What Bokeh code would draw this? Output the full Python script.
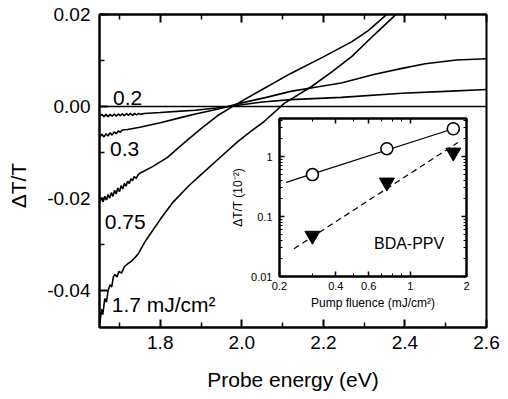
from bokeh.plotting import figure
from bokeh.models import LinearAxis, LogAxis, FixedTicker, Label, Range1d, Span
from bokeh.layouts import column
from bokeh.embed import file_html
from bokeh.resources import INLINE

# ---------------- data: main panel (probe energy in eV, dT/T) ----------------
e_02 = [1.652, 1.657, 1.662, 1.667, 1.672, 1.677, 1.682, 1.687, 1.692, 1.697, 1.702, 1.707,
        1.712, 1.717, 1.722, 1.727, 1.732, 1.737, 1.742, 1.747, 1.752, 1.76, 1.80, 1.85, 1.886,
        1.95, 2.00, 2.05, 2.12, 2.244, 2.393, 2.50, 2.60]
dt_02 = [-0.0021, -0.0017, -0.0022, -0.0017, -0.0022, -0.0017, -0.0021, -0.0016, -0.0021, -0.0016,
         -0.0020, -0.0016, -0.0020, -0.0015, -0.0019, -0.0015, -0.0019, -0.0015, -0.0018, -0.0015,
         -0.0017, -0.0015, -0.0013, -0.0010, -0.0008, -0.0002, 0.0004, 0.0010, 0.0015, 0.0020,
         0.0029, 0.0033, 0.0037]

e_03 = [1.652, 1.657, 1.662, 1.667, 1.672, 1.677, 1.682, 1.687, 1.692, 1.697, 1.702, 1.707,
        1.72, 1.75, 1.80, 1.85, 1.886, 1.94, 2.00, 2.06, 2.12, 2.18, 2.244, 2.326, 2.393, 2.45,
        2.526, 2.60]
dt_03 = [-0.0066, -0.0060, -0.0066, -0.0059, -0.0064, -0.0057, -0.0062, -0.0055, -0.0059, -0.0053,
         -0.0056, -0.0051, -0.0050, -0.0045, -0.0035, -0.0024, -0.0016, -0.0006, 0.0008, 0.0020,
         0.0033, 0.0042, 0.0051, 0.0070, 0.0083, 0.0093, 0.0101, 0.0104]

e_075 = [1.652, 1.656, 1.660, 1.664, 1.668, 1.672, 1.676, 1.680, 1.684, 1.688, 1.692, 1.696,
         1.700, 1.704, 1.708, 1.712, 1.716, 1.720, 1.724, 1.728, 1.732, 1.736, 1.741, 1.746,
         1.75, 1.78, 1.817, 1.857, 1.90, 1.94, 1.99, 2.05, 2.12, 2.20, 2.27, 2.31, 2.35, 2.37]
dt_075 = [-0.0208, -0.0198, -0.0207, -0.0195, -0.0203, -0.0191, -0.0199, -0.0187, -0.0195, -0.0182,
          -0.0190, -0.0177, -0.0185, -0.0172, -0.0179, -0.0167, -0.0173, -0.0162, -0.0167, -0.0157,
          -0.0161, -0.0152, -0.0156, -0.0148, -0.0145, -0.0131, -0.0111, -0.0080, -0.0048, -0.0020,
          0.0007, 0.0037, 0.0072, 0.0108, 0.0141, 0.0165, 0.0196, 0.0212]

e_17 = [1.652, 1.656, 1.659, 1.664, 1.668, 1.672, 1.677, 1.681, 1.685, 1.689, 1.694, 1.699,
        1.705, 1.712, 1.721, 1.728, 1.736, 1.746, 1.763, 1.80, 1.832, 1.87, 1.90, 1.95, 1.99,
        2.022, 2.054, 2.104, 2.17, 2.22, 2.27, 2.326, 2.373, 2.39]
dt_17 = [-0.0470, -0.0440, -0.0452, -0.0417, -0.0425, -0.0400, -0.0387, -0.0392, -0.0370, -0.0365,
         -0.0370, -0.0358, -0.0362, -0.0348, -0.0341, -0.0337, -0.0330, -0.0320, -0.0293, -0.0245,
         -0.0207, -0.0172, -0.0148, -0.0108, -0.0076, -0.0054, -0.0033, 0.0007, 0.0043, 0.0075,
         0.0109, 0.0157, 0.0196, 0.0212]

x_ticks = [1.8, 2.0, 2.2, 2.4, 2.6]
x_minor = [1.7, 1.9, 2.1, 2.3, 2.5]
x_labels = ["1.8", "2.0", "2.2", "2.4", "2.6"]
y_ticks = [-0.04, -0.02, 0.0, 0.02]
y_minor = [-0.03, -0.01, 0.01]
y_labels = ["-0.04", "-0.02", "0.00", "0.02"]

# ---------------- data: inset (pump fluence, dT/T in 10^-2) ----------------
fluence = [0.3, 0.75, 1.7]
dt_circle = [0.5, 1.35, 2.9]
dt_triangle = [0.048, 0.37, 1.17]
fit_lin_x = [0.217, 1.7]
fit_lin_y = [0.37, 2.9]
fit_quad_x = [0.239, 1.8]
fit_quad_y = [0.029, 1.71]

ix_ticks = [0.2, 0.4, 0.6, 1, 2]
ix_minor = [0.3, 0.5, 0.7, 0.8, 0.9]
ix_labels = ["0.2", "0.4", "0.6", "1", "2"]
iy_ticks = [0.01, 0.1, 1]
iy_minor = [0.02, 0.03, 0.04, 0.05, 0.06, 0.07, 0.08, 0.09,
            0.2, 0.3, 0.4, 0.5, 0.6, 0.7, 0.8, 0.9, 2, 3, 4]
iy_labels = ["0.01", "0.1", "1"]

FONT = "Liberation Sans"

# ---------------- main figure ----------------
W, H = 500, 395
LEFT = 99
p = figure(width=W, height=H, output_backend="svg", toolbar_location=None,
           x_range=Range1d(1.651, 2.6), y_range=Range1d(-0.048, 0.02),
           min_border_left=LEFT, min_border_right=14, min_border_top=14, min_border_bottom=68,
           background_fill_color="white", border_fill_color="white")
p.xgrid.visible = False
p.ygrid.visible = False
p.outline_line_color = "black"
p.outline_line_width = 2


def style_axis(ax, ticks, minor, labels, fs, standoff, show_labels=True,
               maj_in=8, min_in=5, maj_w=2, min_w=1.5):
    ax.ticker = FixedTicker(ticks=ticks, minor_ticks=minor)
    ax.axis_line_width = 2
    ax.axis_line_color = "black"
    ax.major_tick_in = maj_in
    ax.major_tick_out = 0
    ax.minor_tick_in = min_in
    ax.minor_tick_out = 0
    ax.major_tick_line_width = maj_w
    ax.minor_tick_line_width = min_w
    ax.major_tick_line_color = "black"
    ax.minor_tick_line_color = "black"
    ax.major_label_text_font = FONT
    if show_labels:
        ax.major_label_overrides = {t: l for t, l in zip(ticks, labels)}
        ax.major_label_text_font_size = fs
        ax.major_label_text_color = "black"
        ax.major_label_standoff = standoff
    else:
        ax.major_label_text_font_size = "1px"
        ax.major_label_text_color = None
        ax.major_label_standoff = 0


style_axis(p.xaxis[0], x_ticks, x_minor, x_labels, "19px", 8)
style_axis(p.yaxis[0], y_ticks, y_minor, y_labels, "19px", 9)
p.xaxis[0].axis_label = "Probe energy (eV)"
p.yaxis[0].axis_label = "\u0394T/T" + "\u00a0" * 5
for ax in (p.xaxis[0], p.yaxis[0]):
    ax.axis_label_text_font = FONT
    ax.axis_label_text_font_size = "21px"
    ax.axis_label_text_font_style = "normal"
    ax.axis_label_text_color = "black"
p.xaxis[0].axis_label_standoff = 16
p.yaxis[0].axis_label_standoff = 14

top_ax = LinearAxis()
style_axis(top_ax, x_ticks, x_minor, x_labels, "1px", 0, show_labels=False)
p.add_layout(top_ax, "above")

p.add_layout(Span(location=0, dimension="width", line_color="black", line_width=1.6))

for xs, ys in [(e_02, dt_02), (e_03, dt_03), (e_075, dt_075), (e_17, dt_17)]:
    p.line(xs, ys, line_color="black", line_width=1.6)

for txt, lx, ly in [("0.2", 1.684, 0.0019), ("0.3", 1.677, -0.0093),
                    ("0.75", 1.664, -0.0250), ("1.7 mJ/cm\u00b2", 1.681, -0.0429)]:
    p.add_layout(Label(x=lx, y=ly, text=txt, text_font=FONT, text_font_size="21px",
                       text_baseline="middle", text_align="left", text_color="black"))

# ---------------- inset figure ----------------
# Bokeh aligns the left borders of plots stacked in a column, so the inset
# uses the same left border as the main panel (its border area is transparent).
IFRAME_W = 194
IRIGHT = 7
IW, IH = LEFT + IFRAME_W + IRIGHT, 199
ins = figure(width=IW, height=IH, output_backend="svg", toolbar_location=None,
             x_axis_type="log", y_axis_type="log",
             x_range=Range1d(0.2, 2), y_range=Range1d(0.01, 4.3),
             min_border_left=LEFT, min_border_right=IRIGHT, min_border_top=4, min_border_bottom=37,
             background_fill_color="white", border_fill_alpha=0)
ins.xgrid.visible = False
ins.ygrid.visible = False
ins.outline_line_color = "black"
ins.outline_line_width = 2

style_axis(ins.xaxis[0], ix_ticks, ix_minor, ix_labels, "11px", 5, maj_in=5, min_in=3,
           maj_w=1.5, min_w=1)
style_axis(ins.yaxis[0], iy_ticks, iy_minor, iy_labels, "11px", 7, maj_in=5, min_in=3,
           maj_w=1.5, min_w=1)
ins.xaxis[0].axis_label = "Pump fluence (mJ/cm\u00b2)"
ins.yaxis[0].axis_label = "\u0394T/T (10\u207b\u00b2)"
for ax in (ins.xaxis[0], ins.yaxis[0]):
    ax.axis_label_text_font = FONT
    ax.axis_label_text_font_size = "12px"
    ax.axis_label_text_font_style = "normal"
    ax.axis_label_text_color = "black"
    ax.axis_label_standoff = 3

itop = LogAxis()
style_axis(itop, ix_ticks, ix_minor, ix_labels, "1px", 0, show_labels=False,
           maj_in=5, min_in=3, maj_w=1.5, min_w=1)
ins.add_layout(itop, "above")
iright = LogAxis()
style_axis(iright, iy_ticks, iy_minor, iy_labels, "1px", 0, show_labels=False,
           maj_in=5, min_in=3, maj_w=1.5, min_w=1)
ins.add_layout(iright, "right")

ins.line(fit_lin_x, fit_lin_y, line_color="black", line_width=1.2)
ins.line(fit_quad_x, fit_quad_y, line_color="black", line_width=1.2, line_dash="6 4")
ins.scatter(fluence, dt_circle, marker="circle", size=12, fill_color="white",
            line_color="black", line_width=1.6)
ins.scatter(fluence, dt_triangle, marker="inverted_triangle", size=15, fill_color="black",
            line_color="black")
ins.add_layout(Label(x=0.64, y=0.0355, text="BDA-PPV", text_font=FONT, text_font_size="16px",
                     text_baseline="middle", text_align="left", text_color="black"))

# overlay inset onto main panel via negative top margin
OX, OY = 279 - LEFT, 114
ins.margin = (-(H - OY), 0, H - OY - IH, OX)

layout = column(p, ins)
layout.margin = 0
p.margin = 0

open("out.html", "w").write(file_html(layout, INLINE))
